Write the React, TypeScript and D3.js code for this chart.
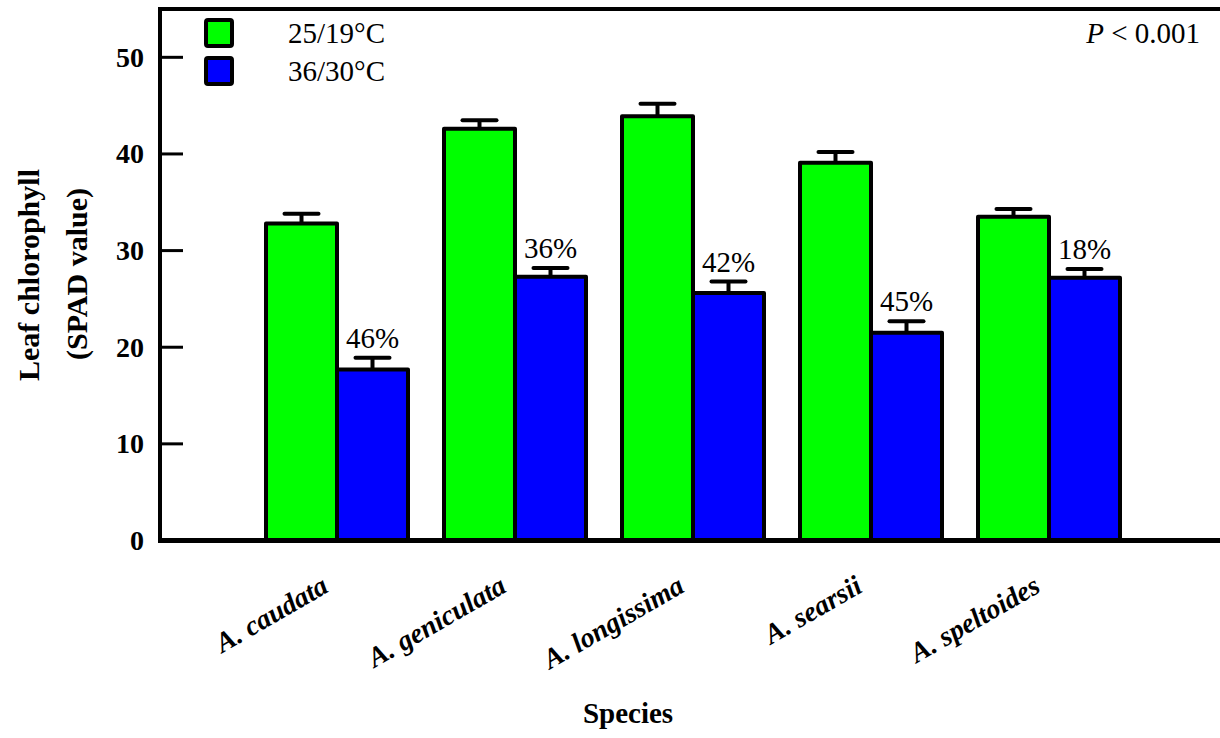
import React from "react";
import * as d3 from "d3";

const species = ["A. caudata", "A. geniculata", "A. longissima", "A. searsii", "A. speltoides"];
const seriesNames = ["25/19°C", "36/30°C"];
const seriesColors = ["#00ff00", "#0000ff"];
const controlValues = [32.8, 42.6, 43.9, 39.1, 33.5];
const controlErrors = [1.0, 0.9, 1.3, 1.1, 0.8];
const heatValues = [17.7, 27.3, 25.6, 21.5, 27.2];
const heatErrors = [1.2, 0.9, 1.2, 1.2, 0.9];
const reductionLabels = ["46%", "36%", "42%", "45%", "18%"];
const yTicks = [0, 10, 20, 30, 40, 50];

const W = 1220;
const H = 738;
const serif = "Liberation Serif, Times New Roman, serif";

export default function App() {
  const left = 160;
  const bottom = 540.5;
  const top = 9;
  const y = d3.scaleLinear().domain([0, 55]).range([bottom, top]);
  const x = d3.scalePoint<string>().domain(species).range([337, 1049]);
  const barW = 71;

  const series = [
    { values: controlValues, errors: controlErrors, offset: -barW },
    { values: heatValues, errors: heatErrors, offset: 0 },
  ];

  return (
    <svg
      width={W}
      height={H}
      style={{ position: "absolute", left: 0, top: 0, background: "#fff", fontFamily: serif }}
    >
      {/* bars */}
      {series.map((s, si) =>
        species.map((sp, i) => {
          const cx = (x(sp) as number) + s.offset;
          const v = s.values[i];
          const e = s.errors[i];
          const yt = y(v);
          const ye = y(v + e);
          return (
            <g key={`${si}-${i}`}>
              <line x1={cx + barW / 2} x2={cx + barW / 2} y1={yt} y2={ye} stroke="#000" strokeWidth={4} />
              <line x1={cx + barW / 2 - 17} x2={cx + barW / 2 + 17} y1={ye} y2={ye} stroke="#000" strokeWidth={4} strokeLinecap="round" />
              <rect
                x={cx}
                y={yt}
                width={barW}
                height={bottom - yt}
                fill={seriesColors[si]}
                stroke="#000"
                strokeWidth={4}
                strokeLinejoin="round"
              />
            </g>
          );
        })
      )}

      {/* reduction labels */}
      {species.map((sp, i) => (
        <text
          key={`lab-${i}`}
          x={(x(sp) as number) + barW / 2}
          y={y(heatValues[i] + heatErrors[i]) - 10}
          textAnchor="middle"
          fontSize={29}
          fill="#000"
        >
          {reductionLabels[i]}
        </text>
      ))}

      {/* axes */}
      <line x1={left} x2={W} y1={top} y2={top} stroke="#000" strokeWidth={4} />
      <line x1={left} x2={W} y1={bottom} y2={bottom} stroke="#000" strokeWidth={5} />
      <line x1={left} x2={left} y1={top - 2} y2={bottom + 2.5} stroke="#000" strokeWidth={4} />
      {yTicks.map((t) => (
        <g key={`t-${t}`}>
          {t > 0 && <line x1={left} x2={left + 23} y1={y(t)} y2={y(t)} stroke="#000" strokeWidth={3} />}
          <text x={144} y={y(t) + 9.5} textAnchor="end" fontSize={28} fontWeight="bold" fill="#000">
            {t}
          </text>
        </g>
      ))}

      {/* x labels */}
      {species.map((sp) => {
        const tx = (x(sp) as number) - 7;
        const ty = 591;
        return (
          <text
            key={`x-${sp}`}
            x={tx}
            y={ty}
            transform={`rotate(-30 ${tx} ${ty})`}
            textAnchor="end"
            fontSize={28}
            fontWeight="bold"
            fontStyle="italic"
            fill="#000"
          >
            {sp}
          </text>
        );
      })}

      {/* axis titles */}
      <text x={628} y={723} textAnchor="middle" fontSize={29} fontWeight="bold" fill="#000">
        Species
      </text>
      <text transform="translate(39 275) rotate(-90)" textAnchor="middle" fontSize={30} fontWeight="bold" fill="#000">
        Leaf chlorophyll
      </text>
      <text transform="translate(87 274) rotate(-90)" textAnchor="middle" fontSize={30} fontWeight="bold" fill="#000">
        (SPAD value)
      </text>

      {/* legend */}
      {seriesNames.map((n, i) => (
        <g key={`leg-${i}`} transform={`translate(206 ${20 + i * 38})`}>
          <rect x={0} y={0} width={26} height={26} fill={seriesColors[i]} stroke="#000" strokeWidth={4} rx={2} />
          <text x={82} y={23} fontSize={29} fill="#000">
            {n}
          </text>
        </g>
      ))}

      {/* P value */}
      <text x={1200} y={43} textAnchor="end" fontSize={29} fill="#000">
        <tspan fontStyle="italic">P</tspan>
        {" < 0.001"}
      </text>
    </svg>
  );
}
